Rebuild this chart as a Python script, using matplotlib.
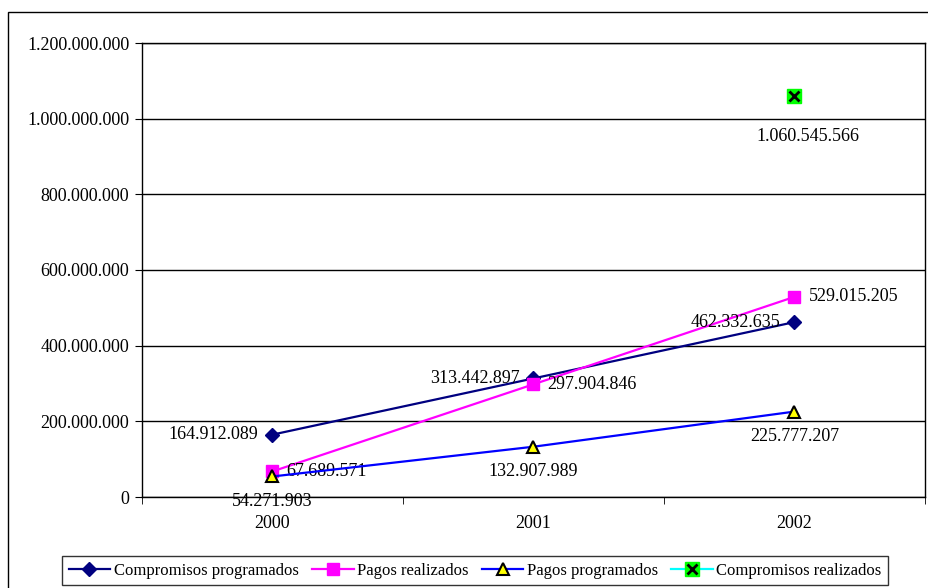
import matplotlib
matplotlib.use("Agg")
import matplotlib.pyplot as plt
import numpy as np
from matplotlib.lines import Line2D
from matplotlib.patches import Rectangle
from matplotlib.legend_handler import HandlerTuple

years = ["2000", "2001", "2002"]
comp_prog = [164912089, 313442897, 462332635]
pagos_real = [67689571, 297904846, 529015205]
pagos_prog = [54271903, 132907989, 225777207]
comp_real = [np.nan, np.nan, 1060545566]
y_ticks = [0, 200000000, 400000000, 600000000, 800000000, 1000000000, 1200000000]

def fmt(v):
    return f"{int(v):,}".replace(",", ".")

plt.rcParams['font.family'] = ['Liberation Serif', 'DejaVu Serif']

fig = plt.figure(figsize=(9.29, 5.88), dpi=100)
# outer chart frame
fig.patches.append(Rectangle((8/929, -0.1), 1.2, 1 - 12/588 + 0.1, transform=fig.transFigure,
                             fill=False, edgecolor='black', linewidth=1.0))

ax = fig.add_axes([142/929, 1 - 497/588, 783/929, 454/588])
x = np.arange(len(years))

ax.plot(x, comp_prog, color='#000080', lw=1.6, marker='D', ms=7, mfc='#000080', mec='#000080', zorder=3)
ax.plot(x, pagos_real, color='#FF00FF', lw=1.6, marker='s', ms=8, mfc='#FF00FF', mec='#FF00FF', zorder=3)
ax.plot(x, pagos_prog, color='#0000FF', lw=1.6, marker='^', ms=8, mfc='#FFFF00', mec='black', mew=1.5, zorder=4)
ax.plot(x, comp_real, color='#00FFFF', lw=1.6, marker='s', ms=10, mfc='#00FF00', mec='#00FF00', zorder=3)
ax.plot(x, comp_real, ls='none', marker='x', ms=7, mec='black', mew=2, zorder=5)

fs = 13
for i in range(3):
    ax.annotate(fmt(comp_prog[i]), (x[i], comp_prog[i]), xytext=(-10, 0), textcoords='offset points',
                ha='right', va='center', fontsize=fs)
    ax.annotate(fmt(pagos_real[i]), (x[i], pagos_real[i]), xytext=(10, 0), textcoords='offset points',
                ha='left', va='center', fontsize=fs)
    ax.annotate(fmt(pagos_prog[i]), (x[i], pagos_prog[i]), xytext=(0, -12), textcoords='offset points',
                ha='center', va='top', fontsize=fs)
ax.annotate(fmt(comp_real[2]), (x[2], comp_real[2]), xytext=(10, -23), textcoords='offset points',
            ha='center', va='top', fontsize=fs)

ax.set_xlim(-0.5, 2.5)
ax.set_ylim(0, 1200000000)
ax.set_yticks(y_ticks)
ax.set_yticklabels([fmt(v) for v in y_ticks], fontsize=fs)
ax.set_xticks(x)
ax.set_xticklabels(years, fontsize=fs)
ax.tick_params(axis='x', length=0, pad=13)
ax.set_xticks([-0.5, 0.5, 1.5, 2.5], minor=True)
ax.tick_params(axis='x', which='minor', length=5, direction='out')
ax.tick_params(axis='y', length=5, direction='out', pad=4)
ax.grid(axis='y', color='black', lw=1.0)
ax.set_axisbelow(True)
for s in ax.spines.values():
    s.set_color('black')
    s.set_linewidth(1.0)

h1 = Line2D([], [], color='#000080', lw=1.6, marker='D', ms=7, mfc='#000080', mec='#000080')
h2 = Line2D([], [], color='#FF00FF', lw=1.6, marker='s', ms=8, mfc='#FF00FF', mec='#FF00FF')
h3 = Line2D([], [], color='#0000FF', lw=1.6, marker='^', ms=8, mfc='#FFFF00', mec='black', mew=1.5)
h4a = Line2D([], [], color='#00FFFF', lw=1.6, marker='s', ms=10, mfc='#00FF00', mec='#00FF00')
h4b = Line2D([], [], ls='none', marker='x', ms=7, mec='black', mew=2)
leg = fig.legend([h1, h2, h3, (h4a, h4b)],
                 ["Compromisos programados", "Pagos realizados", "Pagos programados", "Compromisos realizados"],
                 handler_map={tuple: HandlerTuple(ndivide=1)},
                 loc='upper left', bbox_to_anchor=(62/929, 1 - 556/588), ncol=4, fontsize=12,
                 frameon=True, fancybox=False, edgecolor='black', borderpad=0.4,
                 handlelength=2.5, handletextpad=0.2, columnspacing=0.8, borderaxespad=0)
leg.get_frame().set_linewidth(1.0)

fig.savefig("out.png", dpi=100)
